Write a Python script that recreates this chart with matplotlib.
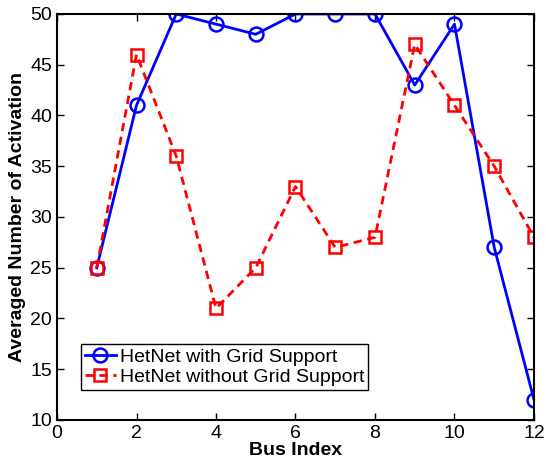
import matplotlib
matplotlib.use('Agg')
import matplotlib.pyplot as plt

plt.rcParams['font.family'] = ['Liberation Sans', 'DejaVu Sans']

bus_index = [1, 2, 3, 4, 5, 6, 7, 8, 9, 10, 11, 12]
with_grid = [25, 41, 50, 49, 48, 50, 50, 50, 43, 49, 27, 12]
without_grid = [25, 46, 36, 21, 25, 33, 27, 28, 47, 41, 35, 28]
x_ticks = [0, 2, 4, 6, 8, 10, 12]
y_ticks = [10, 15, 20, 25, 30, 35, 40, 45, 50]

fig = plt.figure(figsize=(5.46, 4.63), dpi=100)
ax = fig.add_axes([0.1044, 0.0929, 0.8736, 0.8769])

ax.plot(bus_index, with_grid, '-o', color='#0000ff', lw=2, ms=10,
        mfc='none', mew=1.8, label='HetNet with Grid Support')
ax.plot(bus_index, without_grid, '--s', color='#ff0000', lw=2, ms=8,
        mfc='none', mew=1.8, dashes=(3, 2), label='HetNet without Grid Support')

ax.set_xlim(0, 12)
ax.set_ylim(10, 50)
ax.set_xticks(x_ticks)
ax.set_yticks(y_ticks)
ax.tick_params(direction='in', top=True, right=True, labelsize=14, width=1, length=5)
for s in ax.spines.values():
    s.set_linewidth(1.5)

ax.set_xlabel('Bus Index', fontsize=14, fontweight='bold', labelpad=0)
ax.set_ylabel('Averaged Number of Activation', fontsize=14, fontweight='bold', labelpad=3)

leg = ax.legend(loc='lower left', bbox_to_anchor=(0.05, 0.074), fontsize=14,
                fancybox=False, edgecolor='black', framealpha=1,
                handlelength=1.6, handletextpad=0.2, borderpad=0.2,
                labelspacing=0.15, borderaxespad=0)
leg.get_frame().set_linewidth(1)

fig.savefig('out.png', dpi=100)
